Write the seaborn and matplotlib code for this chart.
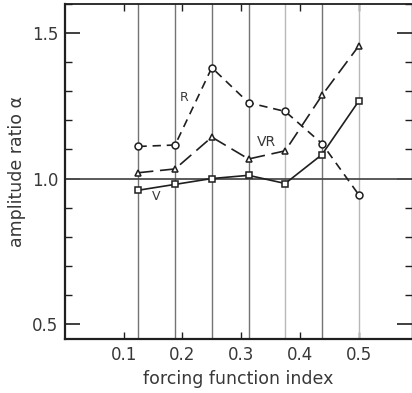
import matplotlib
matplotlib.use("Agg")
import matplotlib.pyplot as plt
from matplotlib.ticker import MultipleLocator, FixedLocator
import seaborn as sns
import pandas as pd

# forcing function index at which each run was made
forcing_index = [0.125, 0.1875, 0.25, 0.3125, 0.375, 0.4375, 0.5]

# amplitude ratio for the three display conditions
ratio_R = [1.11, 1.115, 1.38, 1.26, 1.23, 1.12, 0.945]
ratio_VR = [1.02, 1.033, 1.142, 1.067, 1.095, 1.285, 1.454]
ratio_V = [0.96, 0.98, 1.0, 1.011, 0.983, 1.082, 1.265]

x_ticks = [0.1, 0.2, 0.3, 0.4, 0.5]
x_tick_labels = ["0.1", "0.2", "0.3", "0.4", "0.5"]
y_ticks = [0.5, 1.0, 1.5]
y_tick_labels = ["0.5", "1.0", "1.5"]

sns.set_style("ticks")
plt.rcParams["font.family"] = ["DejaVu Sans"]

ink = "0.12"
text_ink = "0.22"

fig = plt.figure(figsize=(4.12, 3.93), dpi=100)
ax = fig.add_axes([65 / 412, 54 / 393, 346.5 / 412, 335.5 / 393])

# reference grid: a vertical line at every run and the unity line
for xv in forcing_index:
    shade = "0.72" if xv in (0.375, 0.5) else "0.45"
    ax.axvline(xv, color=shade, lw=1.0, zorder=1)
ax.axhline(1.0, color="0.3", lw=1.3, zorder=1)

df = pd.DataFrame({"x": forcing_index, "R": ratio_R, "VR": ratio_VR, "V": ratio_V})

marker_kw = dict(markersize=5, markerfacecolor="white", markeredgecolor=ink,
                 markeredgewidth=1.1)

sns.lineplot(data=df, x="x", y="R", ax=ax, color=ink, lw=1.2, marker="o",
             linestyle=(0, (5, 3.5)), zorder=3, **marker_kw)
sns.lineplot(data=df, x="x", y="VR", ax=ax, color=ink, lw=1.2, marker="^",
             linestyle=(0, (9, 4)), zorder=3, **marker_kw)
sns.lineplot(data=df, x="x", y="V", ax=ax, color=ink, lw=1.2, marker="s",
             linestyle="-", zorder=3, **{**marker_kw, "markersize": 4.6})

# curve labels
ax.text(0.202, 1.279, "R", fontsize=9, color=text_ink, ha="center", va="center")
ax.text(0.3436, 1.125, "VR", fontsize=10, color=text_ink, ha="center", va="center")
ax.text(0.1545, 0.937, "V", fontsize=9, color=text_ink, ha="center", va="center")

ax.set_xlim(0, 0.59)
ax.set_ylim(0.45, 1.6)

ax.xaxis.set_major_locator(FixedLocator(x_ticks))
ax.set_xticklabels(x_tick_labels)
ax.yaxis.set_major_locator(FixedLocator(y_ticks))
ax.set_yticklabels(y_tick_labels)
ax.yaxis.set_minor_locator(MultipleLocator(0.1))

ax.tick_params(axis="y", which="major", direction="in", length=11, width=1.2,
               left=True, right=True, colors=ink, labelcolor=text_ink,
               labelsize=12, pad=5)
ax.tick_params(axis="y", which="minor", direction="in", length=5, width=1.0,
               left=True, right=True, colors=ink)
ax.tick_params(axis="x", which="major", direction="in", length=5, width=1.0,
               top=True, bottom=True, colors=ink, labelcolor=text_ink,
               labelsize=12, pad=5)

for side, lw in (("left", 1.6), ("bottom", 1.6), ("top", 1.3), ("right", 1.0)):
    ax.spines[side].set_visible(True)
    ax.spines[side].set_linewidth(lw)
    ax.spines[side].set_color(ink)

ax.set_xlabel("forcing function index", fontsize=12.5, color=text_ink, labelpad=4)
ax.set_ylabel("amplitude ratio α", fontsize=12.5, color=text_ink, labelpad=4)

fig.savefig("out.png", dpi=100)
